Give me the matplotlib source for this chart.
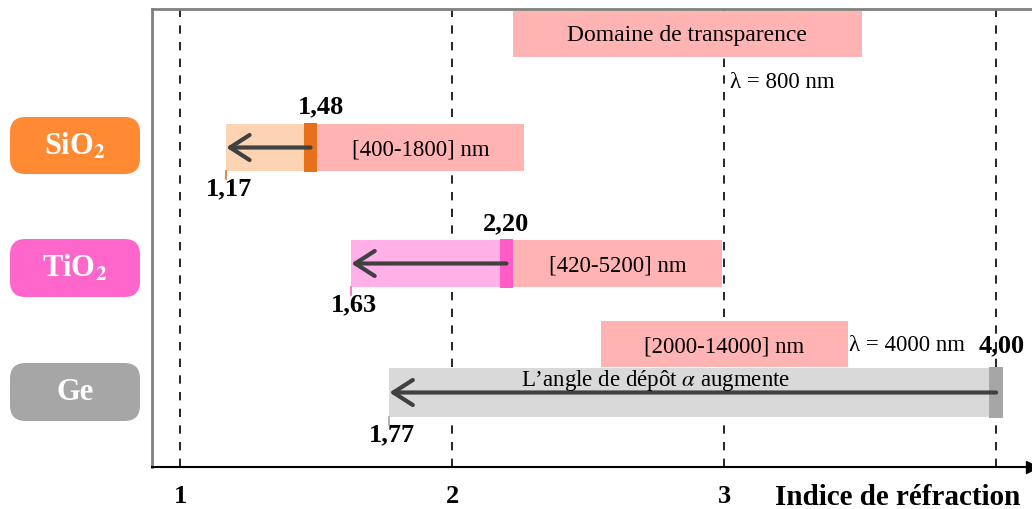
import matplotlib.pyplot as plt
from matplotlib.patches import FancyBboxPatch, Rectangle

plt.rcParams['font.family'] = ['Liberation Serif', 'DejaVu Serif']
plt.rcParams['mathtext.fontset'] = 'stix'

# data
materials = ['SiO$_\\mathbf{2}$', 'TiO$_\\mathbf{2}$', 'Ge']
n_max = [1.48, 2.20, 4.00]
n_min = [1.17, 1.63, 1.77]
n_max_labels = ['1,48', '2,20', '4,00']
n_min_labels = ['1,17', '1,63', '1,77']
transp_ranges = ['[400-1800] nm', '[420-5200] nm', '[2000-14000] nm']
x_ticks = [1, 2, 3]
grid_x = [1, 2, 3, 4]

# styles / layout (pixel rows, y axis inverted)
box_colors = ['#FF8A33', '#FF66CC', '#A6A6A6']
bar_colors = ['#FCD3B3', '#FFB0E6', '#D9D9D9']
band_colors = ['#E8701A', '#FF5CC8', '#A6A6A6']
pink = '#FFB3B3'
row_top = [125, 241, 369]
row_bot = [172, 288, 418]
label_box_y = [(118, 175), (240, 298), (364, 422)]
band_w = 0.05

fig = plt.figure(figsize=(10.32, 5.10), dpi=100)
W, H = 1032, 510
ax = fig.add_axes([152 / W, 1 - 468 / H, 880 / W, 458 / H])
ax.set_xlim(0.897, 4.132)
ax.set_ylim(468, 10)

for x in grid_x:
    ax.axvline(x, color='black', lw=1.2, ls=(0, (5, 5)), zorder=1)

# transparency range boxes (schematic positions)
tr_box = [(n_max[0] + band_w / 2, 2.265, 125, 172),
          (n_max[1] + band_w / 2, 2.993, 241, 288),
          (2.548, 3.456, 322, 368)]
for (x0, x1, y0, y1), txt in zip(tr_box, transp_ranges):
    ax.add_patch(Rectangle((x0, y0), x1 - x0, y1 - y0, color=pink, lw=0, zorder=2))
    ax.text((x0 + x1) / 2, (y0 + y1) / 2 + 2, txt, ha='center', va='center', fontsize=16.5, zorder=5)

ax.add_patch(Rectangle((2.224, 12), 3.507 - 2.224, 46, color=pink, lw=0, zorder=2))
ax.text(2.865, 36, 'Domaine de transparence', ha='center', va='center', fontsize=17, zorder=5)
ax.text(3.02, 83, 'λ = 800 nm', ha='left', va='center', fontsize=16.5)
ax.text(3.46, 346, 'λ = 4000 nm', ha='left', va='center', fontsize=16.5, zorder=5)

for i in range(3):
    y0, y1 = row_top[i], row_bot[i]
    yc = (y0 + y1) / 2
    ax.add_patch(Rectangle((n_min[i], y0), n_max[i] - n_min[i], y1 - y0,
                           color=bar_colors[i], lw=0, zorder=3))
    ax.add_patch(Rectangle((n_max[i] - band_w / 2, y0 - 1), band_w, y1 - y0 + 2,
                           color=band_colors[i], lw=0, zorder=4))
    ax.plot([n_min[i], n_min[i]], [y1, y1 + 8], color=band_colors[i], lw=1.2, zorder=4)
    ax.annotate('', xy=(n_min[i], yc), xytext=(n_max[i], yc),
                arrowprops=dict(arrowstyle='->,head_length=0.7,head_width=0.45',
                                color='#404040', lw=3, mutation_scale=20,
                                shrinkA=0, shrinkB=0), zorder=6)
    ax.text(n_min[i] + 0.01, y1 + 17, n_min_labels[i], ha='center', va='center',
            fontsize=19, fontweight='bold')

ax.text(n_max[0] + 0.04, 107, n_max_labels[0], ha='center', va='center', fontsize=19, fontweight='bold')
ax.text(n_max[1], 224, n_max_labels[1], ha='center', va='center', fontsize=19, fontweight='bold')
ax.text(n_max[2] + 0.02, 346, n_max_labels[2], ha='center', va='center', fontsize=19,
        fontweight='bold', zorder=6)
ax.text(2.75, 381, 'L\u2019angle de dépôt $\\alpha$ augmente', ha='center', va='center',
        fontsize=16.5, zorder=7)

# axes styling
ax.spines['right'].set_visible(False)
ax.spines['left'].set_color('#808080')
ax.spines['left'].set_linewidth(2)
ax.spines['top'].set_color('#808080')
ax.spines['top'].set_linewidth(2)
ax.spines['bottom'].set_color('black')
ax.spines['bottom'].set_linewidth(1.5)
ax.plot(1, 0, '>', color='black', markersize=9, transform=ax.transAxes, clip_on=False)
ax.set_yticks([])
ax.set_xticks(x_ticks)
ax.set_xticklabels([str(t) for t in x_ticks], fontsize=19, fontweight='bold')
ax.tick_params(axis='x', length=0, pad=12)
fig.text(1020 / W, 1 - 498 / H, 'Indice de réfraction', ha='right', va='center',
         fontsize=21, fontweight='bold')

# material labels on the left
for (y0, y1), name, c in zip(label_box_y, materials, box_colors):
    fig.patches.append(FancyBboxPatch((10 / W, 1 - y1 / H), 130 / W, (y1 - y0) / H,
                                      boxstyle='round,pad=0,rounding_size=0.015',
                                      transform=fig.transFigure, color=c, lw=0,
                                      mutation_aspect=W / H, figure=fig))
    fig.text(75 / W, 1 - (y0 + y1) / 2 / H, name, ha='center', va='center',
             fontsize=22, fontweight='bold', color='white')

fig.savefig('out.png', dpi=100)
